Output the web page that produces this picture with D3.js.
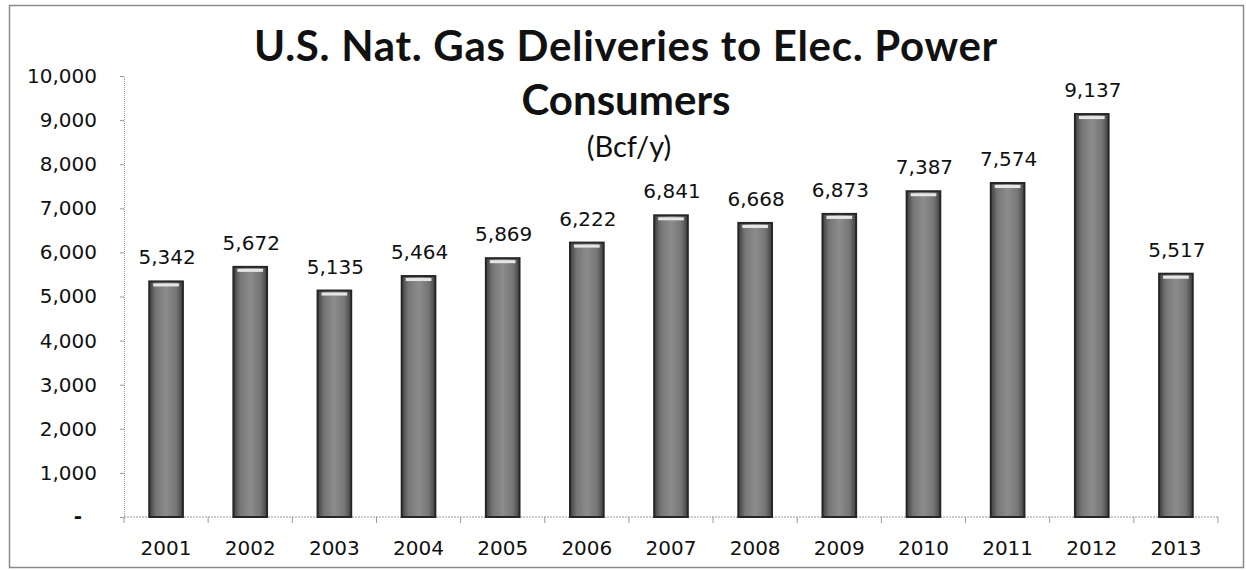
<!DOCTYPE html>
<html>
<head>
<meta charset="utf-8">
<script src="https://cdn.jsdelivr.net/npm/d3@7"></script>
<style>
  body { margin: 0; background: #fff; }
</style>
</head>
<body>
<div id="chart"></div>
<script>
// chart data
var years = ["2001", "2002", "2003", "2004", "2005", "2006", "2007",
             "2008", "2009", "2010", "2011", "2012", "2013"];
var deliveries = [5342, 5672, 5135, 5464, 5869, 6222, 6841,
                  6668, 6873, 7387, 7574, 9137, 5517];
var yTicks = [0, 1000, 2000, 3000, 4000, 5000, 6000, 7000, 8000, 9000, 10000];
var titleLines = ["U.S. Nat. Gas Deliveries to Elec. Power", "Consumers"];
var subtitle = "(Bcf/y)";

var data = years.map(function(y, i) { return {year: y, val: deliveries[i]}; });

// dimensions
var W = 1246, H = 570;
var margin = {top: 76, right: 28, bottom: 53, left: 124},
    width = W - margin.left - margin.right,
    height = H - margin.top - margin.bottom;

var svg = d3.select("#chart").append("svg")
    .attr("width", W)
    .attr("height", H);

// outer frame
svg.append("rect")
    .attr("x", 9.5).attr("y", 5.5)
    .attr("width", W - 12).attr("height", H - 8)
    .attr("fill", "none")
    .attr("stroke", "#8a8a8a")
    .attr("stroke-width", 1.5);

// bar gradient
var defs = svg.append("defs");
var grad = defs.append("linearGradient").attr("id", "barGrad")
    .attr("x1", "0").attr("x2", "1").attr("y1", "0").attr("y2", "0");
grad.append("stop").attr("offset", "0%").attr("stop-color", "#404040");
grad.append("stop").attr("offset", "20%").attr("stop-color", "#767676");
grad.append("stop").attr("offset", "50%").attr("stop-color", "#8c8c8c");
grad.append("stop").attr("offset", "80%").attr("stop-color", "#767676");
grad.append("stop").attr("offset", "100%").attr("stop-color", "#404040");

var g = svg.append("g")
    .attr("transform", "translate(" + margin.left + "," + margin.top + ")");

// scales
var x = d3.scaleBand()
    .domain(years)
    .range([0, width])
    .paddingInner(0.6)
    .paddingOuter(0.3);
var y = d3.scaleLinear()
    .domain([0, 10000])
    .range([height, 0]);

var fmt = d3.format(",");
var labelFont = "'DejaVu Sans', Verdana, sans-serif";
var labelSize = "20px";

// y axis
var yAxis = g.append("g")
    .call(d3.axisLeft(y).tickValues(yTicks).tickSize(4).tickFormat(function(d) { return d === 0 ? "" : fmt(d); }));
yAxis.select(".domain").attr("stroke", "#999").attr("stroke-dasharray", "1,1");
yAxis.selectAll(".tick line").attr("stroke", "#999");
yAxis.selectAll(".tick text")
    .attr("x", -27)
    .style("font-family", labelFont)
    .style("font-size", labelSize)
    .attr("fill", "#111");
// zero label shown as a dash
g.append("text")
    .attr("x", -42)
    .attr("y", y(0))
    .attr("dy", "0.32em")
    .attr("text-anchor", "end")
    .style("font-family", labelFont)
    .style("font-size", labelSize)
    .style("font-weight", "bold")
    .attr("fill", "#111")
    .text("-");

// x axis with ticks at band edges
var xAxisG = g.append("g")
    .attr("transform", "translate(0," + height + ")");
xAxisG.append("line")
    .attr("x1", 0).attr("x2", width)
    .attr("stroke", "#999").attr("stroke-dasharray", "2,1");
var edges = d3.range(years.length + 1).map(function(i) { return i * width / years.length; });
xAxisG.selectAll(".edge")
    .data(edges)
  .enter().append("line")
    .attr("class", "edge")
    .attr("x1", function(d) { return d; })
    .attr("x2", function(d) { return d; })
    .attr("y1", 0).attr("y2", 6)
    .attr("stroke", "#999");
xAxisG.selectAll(".yr")
    .data(years)
  .enter().append("text")
    .attr("class", "yr")
    .attr("x", function(d) { return x(d) + x.bandwidth() / 2; })
    .attr("y", 38)
    .attr("text-anchor", "middle")
    .style("font-family", labelFont)
    .style("font-size", labelSize)
    .attr("fill", "#111")
    .text(function(d) { return d; });

// bars
g.selectAll(".bar")
    .data(data)
  .enter().append("rect")
    .attr("class", "bar")
    .attr("x", function(d) { return x(d.year); })
    .attr("width", x.bandwidth())
    .attr("y", function(d) { return y(d.val); })
    .attr("height", function(d) { return height - y(d.val); })
    .attr("fill", "url(#barGrad)")
    .attr("stroke", "#262626")
    .attr("stroke-width", 2);

// small highlight at the top of each bar
g.selectAll(".hl")
    .data(data)
  .enter().append("rect")
    .attr("class", "hl")
    .attr("x", function(d) { return x(d.year) + 4; })
    .attr("width", x.bandwidth() - 8)
    .attr("y", function(d) { return y(d.val) + 2; })
    .attr("height", 3)
    .attr("fill", "#e6e6e6");

// value labels
g.selectAll(".val")
    .data(data)
  .enter().append("text")
    .attr("class", "val")
    .attr("x", function(d) { return x(d.year) + x.bandwidth() / 2 + 1; })
    .attr("y", function(d) { return y(d.val) - 17; })
    .attr("text-anchor", "middle")
    .style("font-family", labelFont)
    .style("font-size", labelSize)
    .attr("fill", "#111")
    .text(function(d) { return fmt(d.val); });

// title
svg.selectAll(".title")
    .data(titleLines)
  .enter().append("text")
    .attr("class", "title")
    .attr("x", 626)
    .attr("y", function(d, i) { return 61 + i * 54; })
    .attr("text-anchor", "middle")
    .style("font-family", "Lato, 'Open Sans', sans-serif")
    .style("font-weight", "bold")
    .style("font-size", "42px")
    .style("letter-spacing", function(d, i) { return i === 0 ? "0.7px" : "0px"; })
    .attr("fill", "#111")
    .text(function(d) { return d; });

svg.append("text")
    .attr("x", 629)
    .attr("y", 157)
    .attr("text-anchor", "middle")
    .style("font-family", "Lato, 'Open Sans', sans-serif")
    .style("font-size", "29px")
    .attr("fill", "#111")
    .text(subtitle);
</script>
</body>
</html>
